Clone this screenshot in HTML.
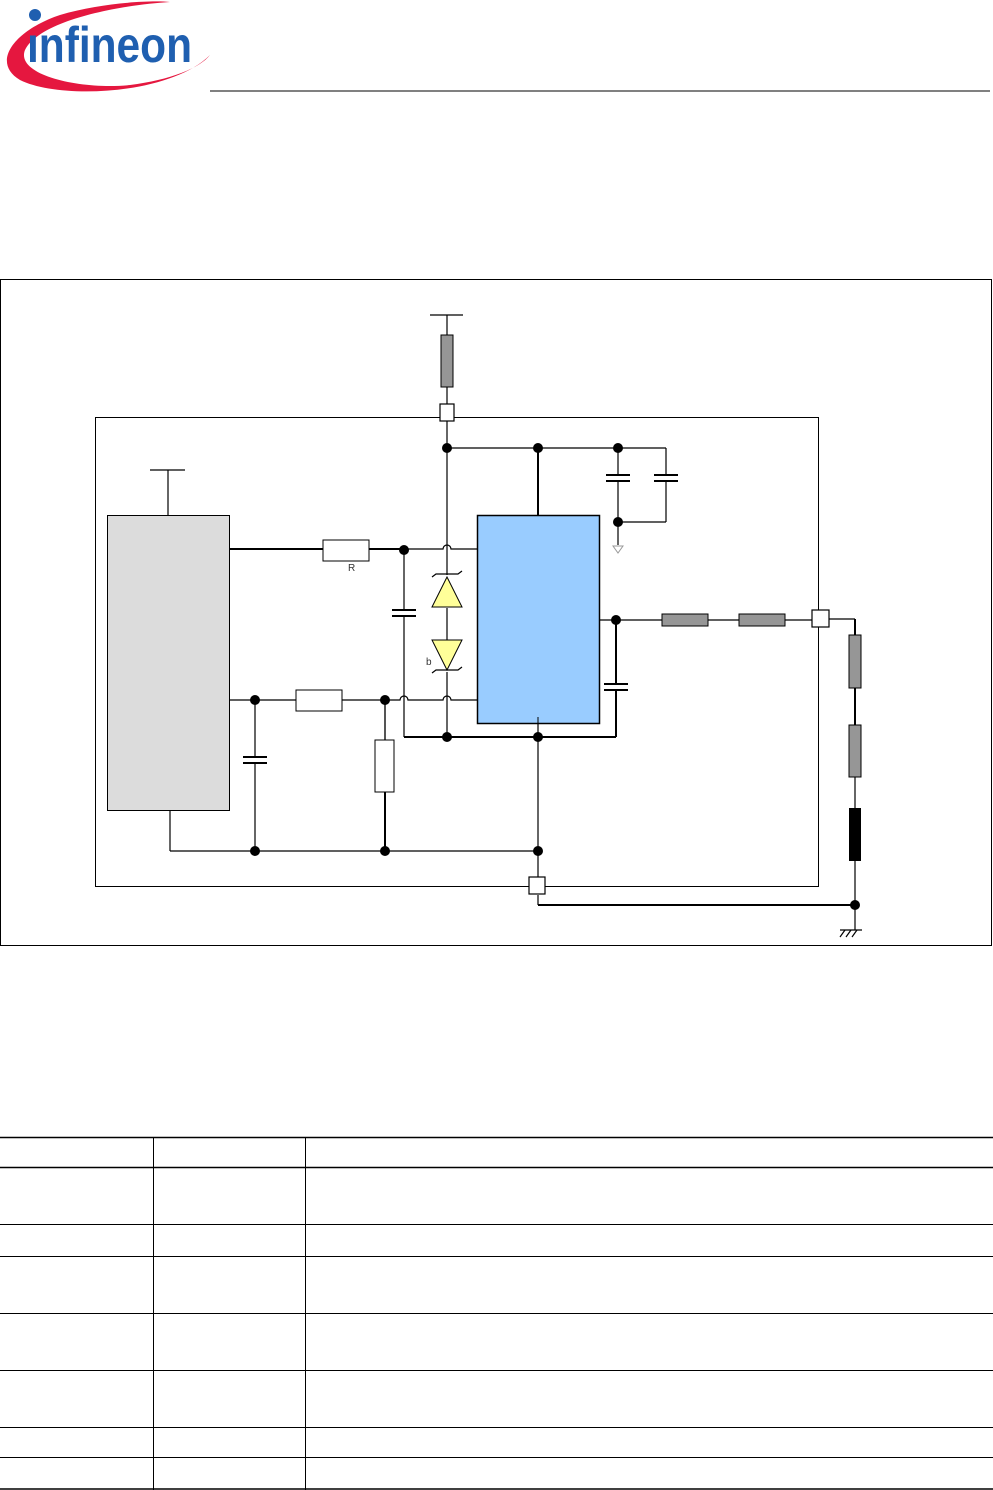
<!DOCTYPE html>
<html><head><meta charset="utf-8"><style>
html,body{margin:0;padding:0;background:#fff;}
svg{display:block;}
</style></head><body>
<svg width="993" height="1490" viewBox="0 0 993 1490" xmlns="http://www.w3.org/2000/svg" font-family="Liberation Sans, sans-serif">
<!-- logo -->
<path d="M210,55 C170,95 60,100 20,80 C-10,62 15,30 60,15 C100,3 150,0 170,2 C120,5 40,20 25,50 C15,75 80,90 130,85 C170,80 200,68 210,55 Z" fill="#e5173f"/>
<circle cx="35" cy="15" r="6" fill="#1f5fb0"/>
<text x="27" y="62" font-size="50" font-weight="bold" fill="#1f5fb0" textLength="165" lengthAdjust="spacingAndGlyphs" font-family="Liberation Sans Narrow, Liberation Sans, sans-serif">ınfineon</text>
<line x1="210" y1="91" x2="990" y2="91" stroke="#000" stroke-width="1"/>

<!-- outer frame -->
<rect x="0.5" y="279.5" width="991" height="666" fill="none" stroke="#000"/>
<rect x="95.5" y="417.5" width="723" height="469" fill="none" stroke="#000"/>

<g stroke="#000" fill="none" stroke-width="1.2">
<!-- top supply -->
<line x1="430" y1="315" x2="463" y2="315"/>
<line x1="447" y1="315" x2="447" y2="335"/>
<line x1="447" y1="387" x2="447" y2="404"/>
<line x1="447" y1="421" x2="447" y2="448"/>
<line x1="447" y1="448" x2="447" y2="575"/>
<line x1="447" y1="608" x2="447" y2="640"/>
<line x1="447" y1="672" x2="447" y2="737"/>
<line x1="447" y1="448" x2="666" y2="448"/>
<line x1="538" y1="448" x2="538" y2="515" stroke-width="2"/>
<line x1="618" y1="448" x2="618" y2="475"/>
<line x1="618" y1="481" x2="618" y2="545"/>
<line x1="666" y1="448" x2="666" y2="475"/>
<line x1="666" y1="481" x2="666" y2="522"/>
<line x1="618" y1="522" x2="666" y2="522"/>
<line x1="606" y1="475" x2="630" y2="475" stroke-width="2"/>
<line x1="606" y1="481" x2="630" y2="481" stroke-width="2"/>
<line x1="654" y1="475" x2="678" y2="475" stroke-width="2"/>
<line x1="654" y1="481" x2="678" y2="481" stroke-width="2"/>
<!-- left module supply -->
<line x1="150" y1="470" x2="185" y2="470"/>
<line x1="168" y1="470" x2="168" y2="515"/>
<!-- R line -->
<line x1="230" y1="549" x2="323" y2="549" stroke-width="2"/>
<line x1="369" y1="549" x2="404" y2="549" stroke-width="2"/>
<path d="M404,549 H443 a4,4 0 0 1 8,0 H477"/>
<line x1="404" y1="549" x2="404" y2="610"/>
<line x1="404" y1="616" x2="404" y2="737"/>
<line x1="392" y1="610" x2="416" y2="610" stroke-width="2"/>
<line x1="392" y1="616" x2="416" y2="616" stroke-width="2"/>
<!-- lower line -->
<line x1="230" y1="700" x2="296" y2="700"/>
<line x1="342" y1="700" x2="385" y2="700"/>
<path d="M385,700 H400 a4,4 0 0 1 8,0 H443 a4,4 0 0 1 8,0 H477"/>
<line x1="255" y1="700" x2="255" y2="757"/>
<line x1="255" y1="763" x2="255" y2="851"/>
<line x1="243" y1="757" x2="267" y2="757" stroke-width="2"/>
<line x1="243" y1="763" x2="267" y2="763" stroke-width="2"/>
<line x1="385" y1="700" x2="385" y2="740" stroke="#555" stroke-width="2"/>
<line x1="385" y1="792" x2="385" y2="851" stroke-width="2"/>
<line x1="170" y1="805" x2="170" y2="851"/>
<line x1="170" y1="851" x2="538" y2="851"/>
<line x1="404" y1="737" x2="616" y2="737" stroke-width="2"/>
<line x1="538" y1="717" x2="538" y2="877"/>
<line x1="616" y1="620" x2="616" y2="684" stroke-width="2"/>
<line x1="616" y1="690" x2="616" y2="737" stroke-width="2"/>
<line x1="604" y1="684" x2="628" y2="684" stroke-width="2"/>
<line x1="604" y1="690" x2="628" y2="690" stroke-width="2"/>
<!-- output -->
<line x1="600" y1="620" x2="662" y2="620"/>
<line x1="708" y1="620" x2="739" y2="620"/>
<line x1="785" y1="620" x2="812" y2="620"/>
<line x1="829" y1="619" x2="855" y2="619"/>
<line x1="855" y1="619" x2="855" y2="635" stroke-width="2"/>
<line x1="855" y1="688" x2="855" y2="725" stroke-width="2"/>
<line x1="855" y1="777" x2="855" y2="808"/>
<line x1="855" y1="861" x2="855" y2="930"/>
<line x1="538" y1="895" x2="538" y2="905"/>
<line x1="538" y1="905" x2="855" y2="905" stroke-width="2"/>
<line x1="840" y1="930" x2="862" y2="930"/>
<line x1="845" y1="930" x2="840" y2="937"/>
<line x1="851" y1="930" x2="846" y2="937"/>
<line x1="857" y1="930" x2="852" y2="937"/>
<!-- zener marks -->
<path d="M432,577 l4,-3 h22 l4,-3"/>
<path d="M432,673 l4,-3 h22 l4,-3"/>
</g>
<polygon points="613,546 623,546 618,553" fill="#fff" stroke="#999"/>

<!-- components -->
<rect x="441" y="335" width="12" height="52" fill="#969696" stroke="#000"/>
<rect x="440" y="404" width="14" height="17" fill="#fff" stroke="#000" stroke-width="1.2"/>
<rect x="529" y="877" width="16" height="17" fill="#fff" stroke="#000" stroke-width="1.2"/>
<rect x="812" y="610" width="17" height="17" fill="#fff" stroke="#000" stroke-width="1.2"/>
<rect x="107.5" y="515.5" width="122" height="295" fill="#dcdcdc" stroke="#000"/>
<rect x="477.5" y="515.5" width="122" height="208" fill="#99ccff" stroke="#000" stroke-width="1.5"/>
<line x1="538" y1="717" x2="538" y2="723" stroke="#000"/>
<rect x="323" y="540" width="46" height="21" fill="#fff" stroke="#000"/>
<text x="348" y="571" font-size="10" fill="#333">R</text>
<rect x="296" y="690" width="46" height="21" fill="#fff" stroke="#000"/>
<rect x="375" y="740" width="19" height="52" fill="#fff" stroke="#000"/>
<polygon points="447,577 432,607 462,607" fill="#ffff99" stroke="#000"/>
<polygon points="447,670 432,640 462,640" fill="#ffff99" stroke="#000"/>
<text x="426" y="665" font-size="10" fill="#333">b</text>
<rect x="662" y="614" width="46" height="12" fill="#969696" stroke="#000"/>
<rect x="739" y="614" width="46" height="12" fill="#969696" stroke="#000"/>
<rect x="849" y="635" width="12" height="53" fill="#969696" stroke="#000"/>
<rect x="849" y="725" width="12" height="52" fill="#969696" stroke="#000"/>
<rect x="849" y="808" width="12" height="53" fill="#000"/>

<!-- dots -->
<g fill="#000">
<circle cx="447" cy="448" r="5"/><circle cx="538" cy="448" r="5"/><circle cx="618" cy="448" r="5"/>
<circle cx="618" cy="522" r="5"/><circle cx="404" cy="550" r="5"/><circle cx="616" cy="620" r="5"/>
<circle cx="255" cy="700" r="5"/><circle cx="385" cy="700" r="5"/>
<circle cx="447" cy="737" r="5"/><circle cx="538" cy="737" r="5"/>
<circle cx="255" cy="851" r="5"/><circle cx="385" cy="851" r="5"/><circle cx="538" cy="851" r="5"/>
<circle cx="855" cy="905" r="5"/>
</g>

<!-- table -->
<g stroke="#000" stroke-width="1">
<line x1="0" y1="1137.5" x2="993" y2="1137.5" stroke-width="1.5"/>
<line x1="0" y1="1167.5" x2="993" y2="1167.5" stroke-width="1.5"/>
<line x1="0" y1="1224.5" x2="993" y2="1224.5"/>
<line x1="0" y1="1256.5" x2="993" y2="1256.5"/>
<line x1="0" y1="1313.5" x2="993" y2="1313.5"/>
<line x1="0" y1="1370.5" x2="993" y2="1370.5"/>
<line x1="0" y1="1427.5" x2="993" y2="1427.5"/>
<line x1="0" y1="1457.5" x2="993" y2="1457.5"/>
<line x1="0" y1="1489" x2="993" y2="1489" stroke-width="1.5"/>
<line x1="153.5" y1="1137" x2="153.5" y2="1490"/>
<line x1="305.5" y1="1137" x2="305.5" y2="1490"/>
</g>
</svg>
</body></html>
